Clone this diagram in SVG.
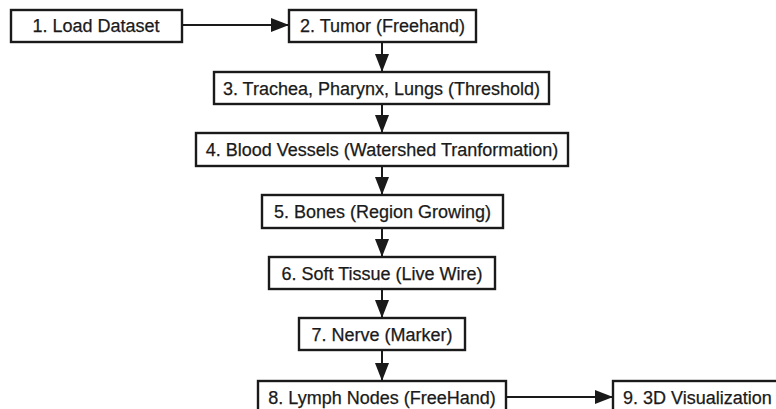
<svg xmlns="http://www.w3.org/2000/svg" width="776" height="409" viewBox="0 0 776 409">
<defs>
<style>
.box{fill:#fff;stroke:#1a1a1a;stroke-width:2.4}
.lbl{font-family:"Liberation Sans",Arial,sans-serif;font-size:18px;fill:#1a1a1a;stroke:#1a1a1a;stroke-width:0.25;text-anchor:middle}
.edge{stroke:#1a1a1a;stroke-width:2;fill:none;marker-end:url(#ah)}
</style>
<marker id="ah" markerUnits="userSpaceOnUse" markerWidth="18" markerHeight="16" refX="18" refY="8" orient="auto">
<path d="M0,1 L18,8 L0,15 z" fill="#1a1a1a"/>
</marker>
</defs>
<rect width="776" height="409" fill="#fff"/>
<g id="connectors">
<line class="edge" x1="182" y1="25" x2="289" y2="25"/>
<line class="edge" x1="382" y1="42" x2="382" y2="72"/>
<line class="edge" x1="382" y1="104" x2="382" y2="133"/>
<line class="edge" x1="382" y1="166" x2="382" y2="195"/>
<line class="edge" x1="382" y1="228" x2="382" y2="257"/>
<line class="edge" x1="382" y1="289" x2="382" y2="318"/>
<line class="edge" x1="382" y1="350" x2="382" y2="381"/>
<line class="edge" x1="506" y1="397" x2="613" y2="397"/>
</g>
<g id="n1"><rect class="box" x="11" y="10" width="171" height="32"/><text class="lbl" x="96" y="32">1. Load Dataset</text></g>
<g id="n2"><rect class="box" x="289" y="10" width="187" height="32"/><text class="lbl" x="382.5" y="32">2. Tumor (Freehand)</text></g>
<g id="n3"><rect class="box" x="214" y="72" width="335" height="32"/><text class="lbl" x="381.5" y="94.5">3. Trachea, Pharynx, Lungs (Threshold)</text></g>
<g id="n4"><rect class="box" x="196" y="133" width="372" height="33"/><text class="lbl" x="382" y="156">4. Blood Vessels (Watershed Tranformation)</text></g>
<g id="n5"><rect class="box" x="262" y="195" width="241" height="33"/><text class="lbl" x="382.5" y="218">5. Bones (Region Growing)</text></g>
<g id="n6"><rect class="box" x="269" y="257" width="226" height="32"/><text class="lbl" x="382" y="279.5">6. Soft Tissue (Live Wire)</text></g>
<g id="n7"><rect class="box" x="299" y="318" width="166" height="32"/><text class="lbl" x="382" y="340.5">7. Nerve (Marker)</text></g>
<g id="n8"><rect class="box" x="258" y="381" width="248" height="34"/><text class="lbl" x="382" y="403.5">8. Lymph Nodes (FreeHand)</text></g>
<g id="n9"><rect class="box" x="613" y="381" width="190" height="34"/><text class="lbl" x="623" y="403.5" style="text-anchor:start">9. 3D Visualization</text></g>
</svg>
